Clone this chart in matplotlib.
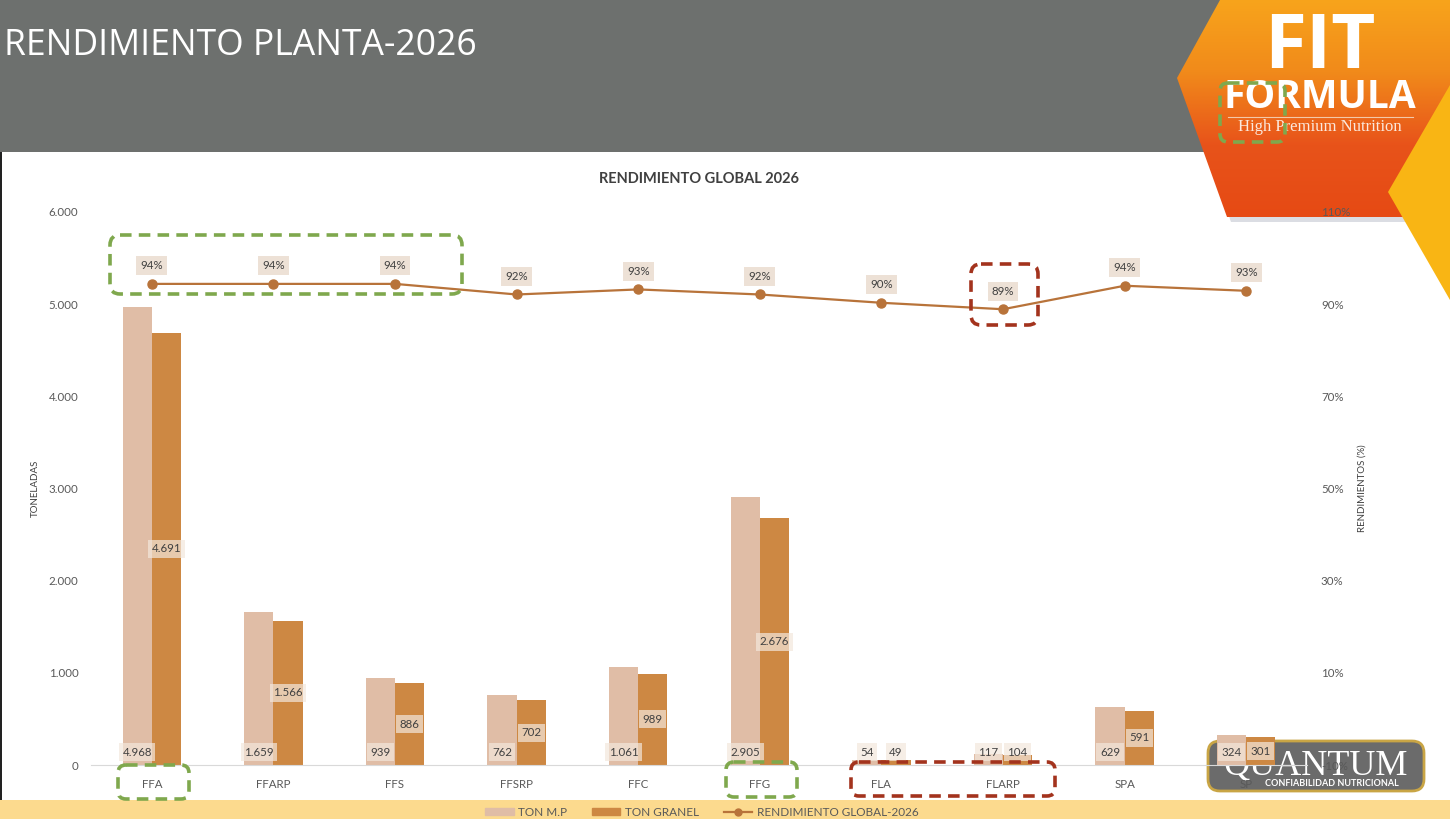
import matplotlib
matplotlib.use("Agg")
import matplotlib.pyplot as plt
import numpy as np
from matplotlib.patches import Polygon, FancyBboxPatch, Rectangle
from matplotlib.ticker import FuncFormatter
from matplotlib.lines import Line2D
from matplotlib.colors import LinearSegmentedColormap

# ---------------- data ----------------
categories = ["FFA", "FFARP", "FFS", "FFSRP", "FFC", "FFG", "FLA", "FLARP", "SPA", "SP"]
ton_mp = [4968, 1659, 939, 762, 1061, 2905, 54, 117, 629, 324]
ton_granel = [4691, 1566, 886, 702, 989, 2676, 49, 104, 591, 301]
rendimiento = [0.944, 0.944, 0.944, 0.921, 0.932, 0.921, 0.903, 0.889, 0.940, 0.929]
left_ticks = [0, 1000, 2000, 3000, 4000, 5000, 6000]
right_ticks = [-0.10, 0.10, 0.30, 0.50, 0.70, 0.90, 1.10]

W, H = 1450, 819
fig = plt.figure(figsize=(W / 100, H / 100), dpi=100)
fig.patch.set_facecolor("white")

FONT = ["Lato", "DejaVu Sans"]
GREY_TXT = "#595959"
C_MP = "#e0bda6"
C_GR = "#cd8843"
C_LINE = "#b8733a"

# ---------------- background decorations (pixel coords) ----------------
bg = fig.add_axes([0, 0, 1, 1], zorder=0)
bg.set_xlim(0, W)
bg.set_ylim(H, 0)
bg.axis("off")

bg.add_patch(Rectangle((0, 0), W, 152, facecolor="#6d706e", edgecolor="none"))
bg.add_patch(Rectangle((0, 800), W, 19, facecolor="#fcda8e", edgecolor="none"))
bg.add_patch(Rectangle((0, 152), 2, 648, facecolor="#222222", edgecolor="none"))
bg.text(4, 46, "RENDIMIENTO PLANTA-2026", color="white", fontsize=25.6,
        family=["Open Sans", "DejaVu Sans"], va="center", ha="left")

# FIT FORMULA logo
hexpts = [(1220, 0), (1450, 0), (1450, 217), (1227, 217), (1177, 78)]
shadow = Polygon([(p[0] + 4, p[1] + 5) for p in hexpts], closed=True,
                 facecolor="#b8bcc8", edgecolor="none", alpha=0.5)
bg.add_patch(shadow)
hexp = Polygon(hexpts, closed=True, facecolor="none", edgecolor="none")
bg.add_patch(hexp)
grad = np.linspace(0, 1, 256).reshape(-1, 1)
cm = LinearSegmentedColormap.from_list("og", ["#f8a41c", "#f18a1a", "#e8531a", "#e64a14"])
im = bg.imshow(grad, cmap=cm, extent=(1170, 1450, 217, 0), aspect="auto", zorder=1)
im.set_clip_path(hexp)
bg.add_patch(Polygon([(1388, 192), (1450, 85), (1450, 300)], closed=True,
                     facecolor="#f9b514", edgecolor="none", zorder=2))
bg.text(1320, 49, "FIT", color="white", fontsize=55, fontweight="bold",
        family=["Open Sans", "DejaVu Sans"], ha="center", va="center", zorder=3)
bg.text(1320, 98, "FORMULA", color="white", fontsize=28, fontweight="bold",
        family=["Open Sans", "DejaVu Sans"], ha="center", va="center", zorder=3)
bg.plot([1228, 1413], [117, 117], color="#f3c9a8", lw=0.8, zorder=3)
bg.text(1320, 127, "High Premium Nutrition", color="#fbe8dc", fontsize=12,
        family=["Liberation Serif", "DejaVu Serif"], ha="center", va="center", zorder=3)

# QUANTUM logo
bg.add_patch(FancyBboxPatch((1208, 741), 216, 50, boxstyle="round,pad=0,rounding_size=12",
                            facecolor="#6b6b6b", edgecolor="#c9a545", lw=2, zorder=3))
bg.text(1316, 766, "QUANTUM", color="white", fontsize=26,
        family=["Liberation Serif", "DejaVu Serif"], ha="center", va="center", zorder=4)
bg.text(1332, 784, "CONFIABILIDAD NUTRICIONAL", color="white", fontsize=6.5, fontweight="bold",
        family=FONT, ha="center", va="center", zorder=4)

# ---------------- chart ----------------
ax_l, ax_r, ax_t, ax_b = 91, 1307, 212, 765
ax = fig.add_axes([ax_l / W, (H - ax_b) / H, (ax_r - ax_l) / W, (ax_b - ax_t) / H], zorder=2)
ax.patch.set_alpha(0)
x = np.arange(len(categories))
bw = 0.24
ax.bar(x - bw / 2, ton_mp, width=bw, color=C_MP, label="TON M.P", zorder=2)
ax.bar(x + bw / 2, ton_granel, width=bw, color=C_GR, label="TON GRANEL", zorder=2)
ax.set_xlim(-0.5, len(categories) - 0.5)
ax.set_ylim(0, 6000)
ax.set_yticks(left_ticks)
ax.yaxis.set_major_formatter(FuncFormatter(lambda v, p: f"{int(v):,}".replace(",", ".")))
ax.set_xticks(x)
ax.set_xticklabels(categories)
for s in ["top", "left", "right"]:
    ax.spines[s].set_visible(False)
ax.spines["bottom"].set_color("#d9d9d9")
ax.tick_params(axis="both", length=0, colors=GREY_TXT, labelsize=8.3)
ax.tick_params(axis="x", pad=10)
ax.tick_params(axis="y", pad=9)
for lab in ax.get_xticklabels() + ax.get_yticklabels():
    lab.set_family(FONT)
ax.set_ylabel("TONELADAS", fontsize=7, color="#404040", family=FONT)
ax.yaxis.set_label_coords((40 - ax_l) / (ax_r - ax_l), 0.5)
ax.set_title("RENDIMIENTO GLOBAL 2026", fontsize=10.5, fontweight="bold", color="#404040",
             family=FONT, pad=21)

fmt = lambda v: f"{v:,}".replace(",", ".")
box = dict(boxstyle="square,pad=0.3", facecolor="#f3e7dc", edgecolor="none", alpha=0.7)
for i in range(len(categories)):
    ax.text(x[i] - bw / 2, 140, fmt(ton_mp[i]), ha="center", va="center", fontsize=8.3,
            color="#404040", family=FONT, bbox=box, zorder=5)
    ax.text(x[i] + bw / 2, max(ton_granel[i] / 2, 140), fmt(ton_granel[i]), ha="center",
            va="center", fontsize=8.3, color="#404040", family=FONT, bbox=box, zorder=5)

ax2 = ax.twinx()
ax2.set_zorder(3)
ax2.patch.set_alpha(0)
ax2.plot(x, rendimiento, color=C_LINE, lw=1.6, marker="o", ms=6.5,
         label="RENDIMIENTO GLOBAL-2026")
ax2.set_ylim(-0.10, 1.10)
ax2.set_yticks(right_ticks)
ax2.yaxis.set_major_formatter(FuncFormatter(lambda v, p: f"{v * 100:.0f}%"))
for s in ["top", "left", "right", "bottom"]:
    ax2.spines[s].set_visible(False)
ax2.tick_params(axis="y", length=0, colors=GREY_TXT, labelsize=8.3, pad=10)
for lab in ax2.get_yticklabels():
    lab.set_family(FONT)
ax2.set_ylabel("RENDIMIENTOS (%)", fontsize=7, color="#404040", family=FONT)
ax2.yaxis.set_label_coords((1358 - ax_l) / (ax_r - ax_l), 0.5)
pbox = dict(boxstyle="square,pad=0.35", facecolor="#ede1d6", edgecolor="none")
for i, r in enumerate(rendimiento):
    ax2.annotate(f"{r * 100:.0f}%", (x[i], r), xytext=(0, 13), textcoords="offset points",
                 ha="center", va="center", fontsize=8.3, color="#404040", family=FONT,
                 bbox=pbox, zorder=6)

handles = [Rectangle((0, 0), 1, 1, color=C_MP), Rectangle((0, 0), 1, 1, color=C_GR),
           Line2D([], [], color=C_LINE, lw=1.6, marker="o", ms=5)]
leg = fig.legend(handles, ["TON M.P", "TON GRANEL", "RENDIMIENTO GLOBAL-2026"],
                 loc="center", bbox_to_anchor=(702 / W, (H - 812) / H), ncol=3,
                 frameon=False, handlelength=2.4, handleheight=0.6,
                 columnspacing=2.1, handletextpad=0.4,
                 prop={"family": FONT, "size": 8.5})
for t in leg.get_texts():
    t.set_color(GREY_TXT)

# ---------------- highlight boxes (pixel coords) ----------------
top = fig.add_axes([0, 0, 1, 1], zorder=10)
top.set_xlim(0, W)
top.set_ylim(H, 0)
top.axis("off")
top.patch.set_alpha(0)
GREEN = "#7fa84d"
RED = "#a3331d"
boxes = [
    (110, 235, 352, 59, GREEN, 10),
    (118, 765, 71, 34, GREEN, 8),
    (726, 762, 71, 35, GREEN, 8),
    (851, 762, 204, 34, RED, 8),
    (971, 264, 67, 61, RED, 10),
    (1220, 83, 65, 59, GREEN, 8),
]
for bx, by, bw_, bh_, col, rs in boxes:
    top.add_patch(FancyBboxPatch((bx, by), bw_, bh_, boxstyle=f"round,pad=0,rounding_size={rs}",
                                 facecolor="none", edgecolor=col, lw=2.6,
                                 linestyle=(0, (3.2, 2.0))))

fig.savefig("out.png", dpi=100)
